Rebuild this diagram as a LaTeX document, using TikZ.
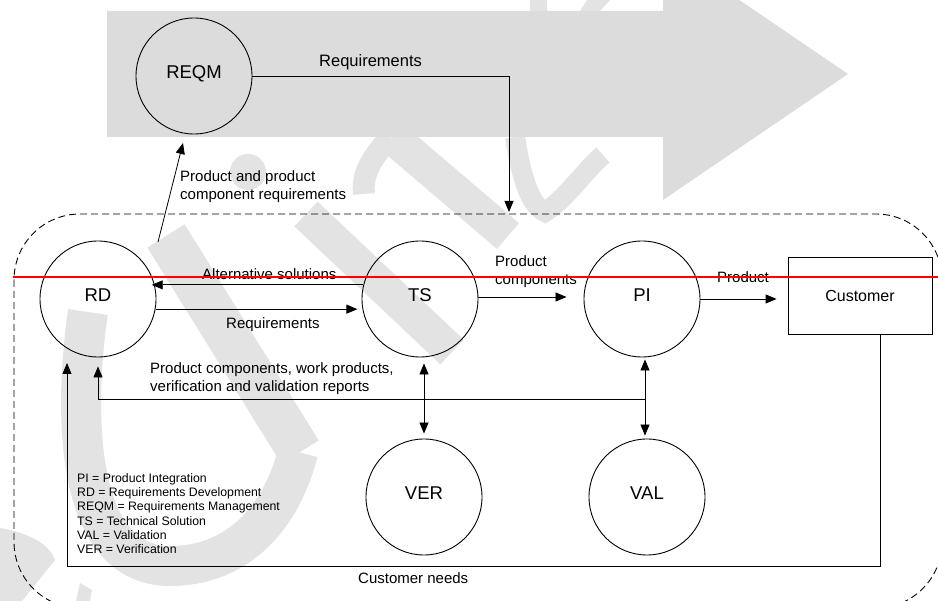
\documentclass[tikz,border=0pt]{standalone}
\usepackage{fontspec}
\setmainfont{Liberation Sans}
\usetikzlibrary{arrows.meta,calc}
\definecolor{wmc}{HTML}{E3E3E3}
\definecolor{arrowgray}{HTML}{DCDCDC}
\begin{document}
\begin{tikzpicture}[x=1pt,y=-1pt,
  proc/.style={circle,draw,line width=0.9pt,minimum size=116pt,inner sep=0pt,
    text height=13.2pt,text depth=8pt,font=\fontsize{18.5}{22}\selectfont},
  custbox/.style={rectangle,draw,line width=0.8pt,minimum width=144pt,minimum height=77pt,
    inner sep=0pt,font=\fontsize{16}{19}\selectfont},
  lbl/.style={inner sep=0pt,font=\fontsize{15}{18.5}\selectfont,align=left,anchor=north west},
  legendtxt/.style={inner sep=0pt,font=\fontsize{12.3}{14.3}\selectfont,align=left,anchor=north west},
  arr/.style={-{Triangle[length=11pt,width=9pt]},line width=0.8pt},
  darr/.style={{Triangle[length=11pt,width=9pt]}-{Triangle[length=11pt,width=9pt]},line width=0.8pt},
  wmark/.style={draw=wmc,line cap=butt}
]
\useasboundingbox (0,0) rectangle (938,601);
% watermark (approximate)
\draw[wmark,line width=44pt] (166,236) -- (300,452);
\draw[wmark,line width=40pt] (88,312) .. controls (75,400) and (70,566) .. (170,566) .. controls (240,566) and (282,515) .. (298,452);
\draw[wmark,line width=34pt] (306,214) -- (452,352);
\draw[wmark,line width=34pt] (392,137) -- (508,236);
\draw[wmark,line width=22pt] (390,137) .. controls (370,160) and (362,175) .. (364,194);
\draw[wmark,line width=20pt] (515,137) .. controls (522,180) and (530,205) .. (545,212) .. controls (565,200) and (585,170) .. (603,155);
\fill[wmc] (248,172) circle (18pt);
\fill[wmc] (530,0) rectangle (547,11);
\fill[wmc] (587,0) -- (610,0) -- (600,11) -- (580,11) -- cycle;
\fill[wmc] (0,528) .. controls (30,533) and (50,545) .. (55,560) -- (22,601) -- (0,601) -- cycle;
\fill[wmc] (76,601) -- (80,583) -- (92,590) -- (90,601) -- cycle;
% big background arrow
\fill[arrowgray] (107,11) -- (663,11) -- (663,-52) -- (848,74) -- (663,200) -- (663,137) -- (107,137) -- cycle;
% dashed boundary
\draw[dashed,dash pattern=on 7pt off 4pt,line width=0.9pt,rounded corners=66pt] (14,214) rectangle (942,608);
% nodes
\node[proc] (REQM) at (194,76) {REQM};
\node[proc] (RD) at (98,299) {RD};
\node[proc] (TS) at (420,299) {TS};
\node[proc] (PI) at (642,299) {PI};
\node[proc] (VER) at (424,497) {VER};
\node[proc] (VAL) at (647,497) {VAL};
\node[custbox] (Cust) at (860,295.5) {Customer};
% coordinates
\coordinate (reqin) at (509,212);
\coordinate (rdout) at (158,242);
\coordinate (reqmin) at (183,143);
\coordinate (valx) at (645,0);
\coordinate (fbstart) at (645,399);
\coordinate (cnx) at (880,0);
\coordinate (cn1) at (880,566);
\coordinate (cn2) at (67,566);
\coordinate (cnend) at (67,363);
% connectors
\draw[arr] (REQM.east) -| (reqin);
\draw[arr] (rdout) -- (reqmin);
\draw[arr,shorten >=-3pt] (TS.166) -- (RD.14);
\draw[arr,shorten >=5pt] (RD.-10) -- (TS.190);
\draw[arr,shorten >=17pt] (TS.east |- 0,297) -- (PI.west |- 0,297);
\draw[arr,shorten >=11pt] (PI.east) -- (Cust.west |- PI.east);
\draw[darr,shorten <=6pt,shorten >=5pt] (VER.north |- TS.south) -- (VER.north);
\draw[darr,shorten <=2pt,shorten >=3pt] (PI.south -| valx) -- (VAL.north -| valx);
\draw[arr,shorten >=9pt] (fbstart) -| (RD.south);
\draw[arr] (Cust.south -| cnx) -- (cn1) -- (cn2) -- (cnend);
% labels
\node[inner sep=0pt,anchor=north west,font=\fontsize{16.5}{20}\selectfont] (lreq) at (319,54) {Requirements};
\node[lbl] (lpcr) at (180,170) {Product and product\\component requirements};
\node[lbl] (lalt) at (202,268) {Alternative solutions};
\node[lbl] (lreq2) at (226,317) {Requirements};
\node[lbl] (lpc) at (495,255) {Product\\components};
\node[lbl] (lprod) at (717,271) {Product};
\node[lbl] (lpcw) at (150,362) {Product components, work products,\\verification and validation reports};
\node[lbl] (lcn) at (358,572) {Customer needs};
\node[legendtxt] (legend) at (77,473) {PI = Product Integration\\RD = Requirements Development\\REQM = Requirements Management\\TS = Technical Solution\\VAL = Validation\\VER = Verification};
% red line
\draw[red,line width=1.4pt] (13,277) -- (938,277);
\end{tikzpicture}
\end{document}
